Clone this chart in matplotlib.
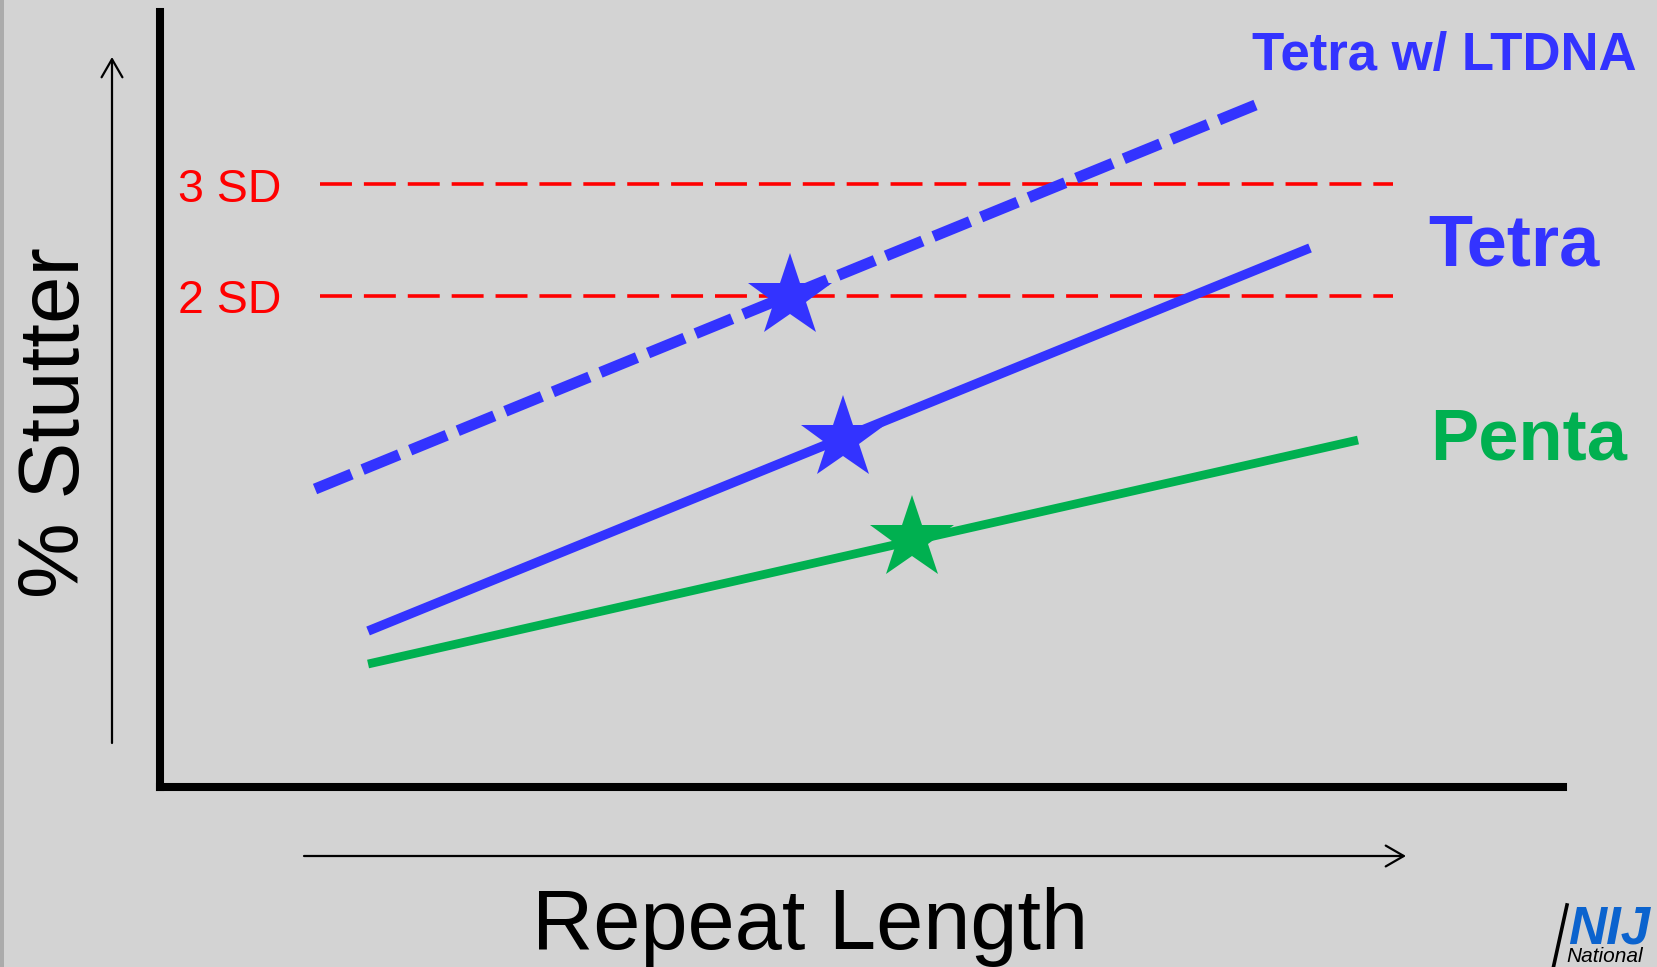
import matplotlib

matplotlib.use("Agg")
import matplotlib.pyplot as plt
from matplotlib.patches import FancyArrowPatch, ArrowStyle, Rectangle
from matplotlib.lines import Line2D

plt.rcParams["font.family"] = ["Liberation Sans", "DejaVu Sans"]

# schematic values, axes run 0-100 on both sides
repeat_ltdna = [11.05, 78.26]
stutter_ltdna = [38.45, 88.13]
repeat_tetra = [14.83, 81.97]
stutter_tetra = [20.13, 69.55]
repeat_penta = [14.83, 85.39]
stutter_penta = [15.87, 44.77]

star_repeat = [44.90, 48.68, 53.60]
star_stutter = [63.23, 44.90, 32.0]

sd_levels = [77.81, 63.35]
sd_labels = ["3 SD", "2 SD"]
sd_span = [11.40, 87.88]

BG = "#D3D3D3"
BLUE = "#3333FF"
GREEN = "#00B050"
RED = "#FF0000"
NIJ_BLUE = "#0B63CE"

W, H = 1657, 967


def fx(px):
    return px / W


def fy(py):
    return 1 - py / H


fig = plt.figure(figsize=(W / 100, H / 100), dpi=100, facecolor=BG)
fig.add_artist(Rectangle((0, 0), fx(4), 1, transform=fig.transFigure,
                         color="#ABABAB", lw=0))

ax = fig.add_axes([fx(160), fy(787), fx(1563) - fx(160), fy(12) - fy(787)])
ax.set_xlim(0, 100)
ax.set_ylim(0, 100)
ax.patch.set_visible(False)
for side in ("top", "right"):
    ax.spines[side].set_visible(False)
for side in ("left", "bottom"):
    ax.spines[side].set_linewidth(5.8)
    ax.spines[side].set_color("black")
ax.set_xticks([])
ax.set_yticks([])

# SD thresholds
for level in sd_levels:
    ax.plot(sd_span, [level, level], color=RED, lw=2.6, solid_capstyle="butt",
            dashes=(23 / 2.6, 8.6 / 2.6), dash_capstyle="butt", zorder=2)

lw_dash = 8.0
ax.plot(repeat_ltdna, stutter_ltdna, color=BLUE, lw=lw_dash,
        dashes=(28.4 / lw_dash, 8.6 / lw_dash), dash_capstyle="butt", zorder=3)
ax.plot(repeat_tetra, stutter_tetra, color=BLUE, lw=6.8,
        solid_capstyle="butt", zorder=3)
ax.plot(repeat_penta, stutter_penta, color=GREEN, lw=6.3,
        solid_capstyle="butt", zorder=3)

for x, y, c in zip(star_repeat, star_stutter, [BLUE, BLUE, GREEN]):
    ax.plot([x], [y], marker="*", markersize=63, color=c, markeredgewidth=0,
            linestyle="none", zorder=4, clip_on=False)

for label, base in zip(sd_labels, [202, 313]):
    fig.text(fx(178), fy(base), label, color=RED, fontsize=33.5,
             ha="left", va="baseline")

fig.text(fx(1252), fy(70), "Tetra w/ LTDNA", color=BLUE, fontsize=38,
         fontweight="bold", ha="left", va="baseline")
fig.text(fx(1428), fy(266), "Tetra", color=BLUE, fontsize=52,
         fontweight="bold", ha="left", va="baseline")
fig.text(fx(1430), fy(460), "Penta", color=GREEN, fontsize=52,
         fontweight="bold", ha="left", va="baseline")

# axis titles with their direction arrows
fig.text(fx(57), fy(423), "% Stutter", fontsize=61.5, rotation=90,
         ha="center", va="center")
fig.text(fx(810), fy(949), "Repeat Length", fontsize=61,
         ha="center", va="baseline")

head = ArrowStyle("->", head_length=13, head_width=7.5)
for start, end in [((112, 743), (112, 57)), ((304, 856), (1406, 856))]:
    arrow = FancyArrowPatch((fx(start[0]), fy(start[1])), (fx(end[0]), fy(end[1])),
                            transform=fig.transFigure, arrowstyle=head,
                            mutation_scale=1, lw=1.6, color="black",
                            shrinkA=0, shrinkB=0)
    fig.add_artist(arrow)

# NIJ mark in the corner
fig.add_artist(Line2D([fx(1553), fx(1567)], [fy(969), fy(905)],
                      transform=fig.transFigure, color="black", lw=2.6))
fig.text(fx(1568), fy(943), "NIJ", color=NIJ_BLUE, fontsize=38,
         fontweight="bold", fontstyle="italic", ha="left", va="baseline")
fig.text(fx(1566), fy(962), "National", fontsize=15, fontstyle="italic",
         ha="left", va="baseline")
fig.text(fx(1562), fy(983), "Institute", fontsize=15, fontstyle="italic",
         ha="left", va="baseline")

fig.savefig("out.png", dpi=100, facecolor=BG)
